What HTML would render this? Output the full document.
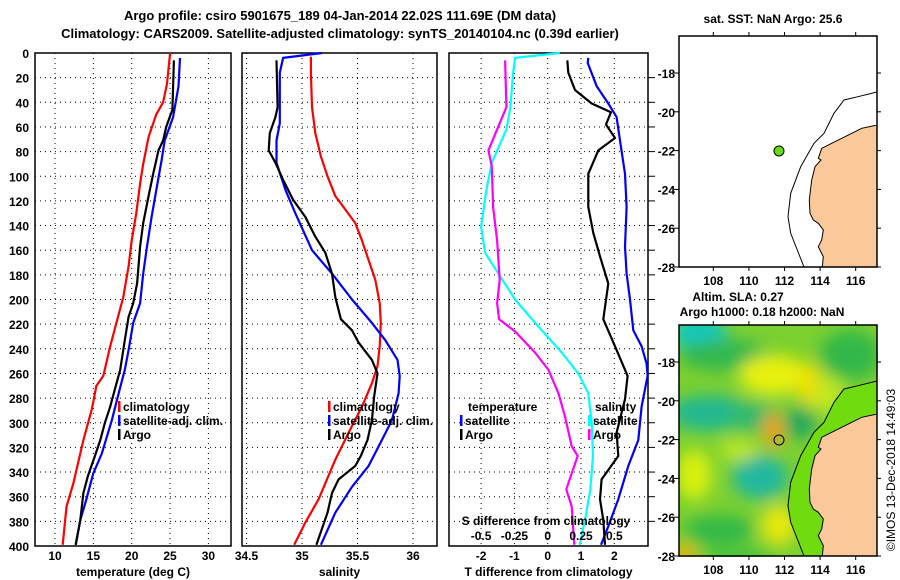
<!DOCTYPE html>
<html><head><meta charset="utf-8"><style>
html,body{margin:0;padding:0;background:#fff;width:900px;height:580px;overflow:hidden}
svg text{font-family:"Liberation Sans",sans-serif;font-weight:bold;font-size:12px;fill:#000}
</style></head><body>
<svg id="fig" width="900" height="580" viewBox="0 0 900 580" xmlns="http://www.w3.org/2000/svg">
<defs>
<filter id="blur" x="-20%" y="-20%" width="140%" height="140%"><feGaussianBlur stdDeviation="8"/></filter>
<clipPath id="clip2"><rect x="679" y="325" width="199" height="232"/></clipPath>
</defs>
<text x="340" y="20" text-anchor="middle" style="font-size:13px">Argo profile: csiro 5901675_189 04-Jan-2014 22.02S 111.69E (DM data)</text>
<text x="340" y="38" text-anchor="middle" style="font-size:13px">Climatology: CARS2009. Satellite-adjusted climatology: synTS_20140104.nc (0.39d earlier)</text>
<g id="panels"></g>
<g id="maps"></g>
<text x="773" y="23" text-anchor="middle">sat. SST: NaN Argo: 25.6</text>
<text x="738" y="301" text-anchor="middle">Altim. SLA: 0.27</text>
<text x="762" y="316" text-anchor="middle">Argo h1000: 0.18 h2000: NaN</text>
<text transform="translate(895,470) rotate(-90)" text-anchor="middle" style="font-weight:normal;font-size:12px">©IMOS 13-Dec-2018 14:49:03</text>
</svg>
<script>
// ---- Data ----
const depthTicks=[0,20,40,60,80,100,120,140,160,180,200,220,240,260,280,300,320,340,360,380,400];
const tempTicks=[10,15,20,25,30];
const salTicks=[34.5,35,35.5,36];
const tdiffTicks=[-2,-1,0,1,2];
const sdiffTickLabels=["-0.5","-0.25","0","0.25","0.5"];
const sdiffTicks=[-0.5,-0.25,0,0.25,0.5];
const latTicks=[-18,-20,-22,-24,-26,-28];
const lonTicks=[108,110,112,114,116];

const tClimD=[0,25,40,50,68,90,106,130,152,173,198,219,238,262,270,289,314,349,368,399];
const tClimV=[25.0,24.6,24.1,23.2,22.2,21.5,21.1,20.6,20.0,19.6,18.9,18.0,17.2,16.3,15.4,14.8,13.7,12.4,11.5,11.0];
const tSatD=[4,27,52,71,87,108,133,157,179,203,219,241,257,276,298,325,341,362,379,399];
const tSatV=[26.3,26.1,25.4,24.3,23.9,23.3,22.6,22.0,21.5,21.1,20.2,19.6,19.1,18.3,17.4,16.1,15.0,14.1,13.3,12.7];
const tArgoD=[6,46,60,71,79,98,116,138,157,187,203,214,233,257,273,287,300,314,327,343,357,379,399];
const tArgoV=[25.5,25.3,24.5,24.1,23.5,22.8,22.2,21.5,21.1,20.7,20.2,19.6,19.1,18.5,17.8,17.2,16.5,15.9,15.2,14.3,13.7,13.3,12.7];

const sClimD=[3,16,44,65,84,100,116,127,138,152,168,184,203,219,238,254,268,287,308,330,362,381,399];
const sClimV=[35.08,35.08,35.09,35.12,35.17,35.23,35.30,35.39,35.48,35.54,35.60,35.66,35.70,35.71,35.70,35.68,35.63,35.54,35.42,35.30,35.15,35.03,34.93];
const sSatD=[0,4,16,57,71,89,111,130,160,179,200,219,233,249,262,276,298,314,335,352,373,399];
const sSatV=[35.18,34.83,34.80,34.80,34.77,34.77,34.85,34.94,35.09,35.27,35.45,35.63,35.75,35.86,35.88,35.87,35.81,35.72,35.60,35.45,35.30,35.17];
const sArgoD=[6,44,52,65,79,89,103,119,133,149,162,179,198,216,225,235,249,260,279,298,314,327,335,346,357,373,399];
const sArgoV=[34.77,34.78,34.76,34.71,34.70,34.76,34.83,34.92,35.03,35.12,35.21,35.27,35.30,35.35,35.45,35.51,35.63,35.68,35.65,35.63,35.59,35.53,35.48,35.33,35.27,35.23,35.13];

const dtSatD=[4,8,27,41,52,71,98,125,157,179,200,225,238,252,262,287,314,335,362,384,399];
const dtSatV=[1.22,1.20,1.47,1.82,2.07,2.17,2.32,2.37,2.32,2.37,2.47,2.57,2.82,2.97,3.0,2.82,2.72,2.42,2.12,1.82,1.60];
const dtArgoD=[6,16,30,41,48,58,69,79,98,125,146,165,187,216,238,262,281,308,327,346,362,379,399];
const dtArgoV=[0.59,0.62,0.82,1.32,1.90,1.75,2.02,1.52,1.22,1.22,1.37,1.57,1.82,1.67,2.02,2.40,2.32,2.07,2.12,1.62,1.57,1.67,1.72];
const dsSatD=[0,4,16,44,62,89,111,141,162,179,200,222,243,260,276,300,327,354,379,399];
const dsSatV=[0.09,-0.245,-0.26,-0.28,-0.31,-0.42,-0.46,-0.50,-0.47,-0.37,-0.245,-0.07,0.105,0.23,0.305,0.33,0.34,0.32,0.28,0.24];
const dsArgoD=[6,44,62,79,92,125,152,184,203,216,226,243,257,276,295,319,327,341,354,368,399];
const dsArgoV=[-0.32,-0.31,-0.38,-0.445,-0.42,-0.41,-0.38,-0.36,-0.38,-0.365,-0.245,-0.095,0.005,0.08,0.13,0.18,0.225,0.18,0.14,0.18,0.20];

const floatLon=111.69, floatLat=-22.02;

// ---- helpers ----
const NS="http://www.w3.org/2000/svg";
function mk(tag,attrs,parent){const e=document.createElementNS(NS,tag);for(const k in attrs)e.setAttribute(k,attrs[k]);parent.appendChild(e);return e;}
const Y0=53,Y1=546;
const yD=d=>Y0+(d/400)*(Y1-Y0);
const panelsG=document.getElementById('panels');

function panel(name,x0,x1,xs,ticks,labels,title){
  const g=mk('g',{},panelsG);
  
  
  depthTicks.forEach(d=>{
    if(d>0&&d<400){const l=mk('line',{x1:x0,x2:x1,y1:yD(d),y2:yD(d),stroke:'#000','stroke-width':1,'stroke-dasharray':'1,4'},g);
    }
  });
  ticks.forEach((t,i)=>{
    const x=xs(t);
    const l=mk('line',{x1:x,x2:x,y1:Y0,y2:Y1,stroke:'#000','stroke-width':1,'stroke-dasharray':'1,4'},g);
    
    if(labels){const tx=mk('text',{x:x,y:560,'text-anchor':'middle'},g);tx.textContent=labels[i];
    }
  });
  const r=mk('rect',{x:x0,y:Y0,width:x1-x0,height:Y1-Y0,fill:'none',stroke:'#000','stroke-width':1.5},g);
  
  if(title){const t=mk('text',{x:(x0+x1)/2,y:576,'text-anchor':'middle'},g);t.textContent=title;
  }
  return g;
}
function line(g,xs,D,V,color,name){
  const pts=D.map((d,i)=>xs(V[i]).toFixed(1)+','+yD(d).toFixed(1)).join(' ');
  const p=mk('polyline',{points:pts,fill:'none',stroke:color,'stroke-width':2.2,'stroke-linejoin':'round'},g);
  
  
}
function legend(g,x,y,color,text,name){
  if(color){const b=mk('rect',{x:x,y:y-10,width:2.5,height:11,fill:color},g);
    }
  const t=mk('text',{x:x+5,y:y},g);t.textContent=text;
  
  
}

depthTicks.forEach(d=>{
  const t=mk('text',{x:29,y:yD(d)+5,'text-anchor':'end'},panelsG);t.textContent=d;
  
  
});

const xT=v=>55+(v-10)*7.67;
const p1=panel('temperature-panel',35,231,xT,tempTicks,tempTicks.map(String),'temperature (deg C)');
line(p1,xT,tClimD,tClimV,'#f00','temp-climatology-line');
line(p1,xT,tSatD,tSatV,'#00f','temp-satellite-line');
line(p1,xT,tArgoD,tArgoV,'#000','temp-argo-line');
legend(p1,118,411,'#f00','climatology','legend-climatology');
legend(p1,118,425,'#00f','satellite-adj. clim.','legend-satellite');
legend(p1,118,439,'#000','Argo','legend-argo');

const xS=v=>302+(v-35)*111;
const p2=panel('salinity-panel',242,437,xS,salTicks,salTicks.map(String),'salinity');
line(p2,xS,sClimD,sClimV,'#f00','sal-climatology-line');
line(p2,xS,sSatD,sSatV,'#00f','sal-satellite-line');
line(p2,xS,sArgoD,sArgoV,'#000','sal-argo-line');
legend(p2,328,411,'#f00','climatology','legend-climatology');
legend(p2,328,425,'#00f','satellite-adj. clim.','legend-satellite');
legend(p2,328,439,'#000','Argo','legend-argo');

const xDT=v=>547.7+v*33.3;
const xDS=v=>547.7+v*133.2;
const p3=panel('difference-panel',449,648,xDT,tdiffTicks,tdiffTicks.map(String),'T difference from climatology');
line(p3,xDT,dtSatD,dtSatV,'#00f','tdiff-satellite-line');
line(p3,xDT,dtArgoD,dtArgoV,'#000','tdiff-argo-line');
line(p3,xDS,dsSatD,dsSatV,'#0ff','sdiff-satellite-line');
line(p3,xDS,dsArgoD,dsArgoV,'#f0f','sdiff-argo-line');
depthTicks.forEach(d=>{if(d>0&&d<400){const l=mk('line',{x1:648,x2:655,y1:yD(d),y2:yD(d),stroke:'#000','stroke-width':1},p3);
  }});
legend(p3,463,411,null,'temperature','legend-temperature-header');
legend(p3,460,425,'#00f','satellite','legend-t-satellite');
legend(p3,460,439,'#000','Argo','legend-t-argo');
legend(p3,590,411,null,'salinity','legend-salinity-header');
legend(p3,588,425,'#0ff','satellite','legend-s-satellite');
legend(p3,588,439,'#f0f','Argo','legend-s-argo');
{const t=mk('text',{x:546,y:525,'text-anchor':'middle'},p3);t.textContent='S difference from climatology';
}
sdiffTicks.forEach((s,i)=>{const t=mk('text',{x:xDS(s),y:540,'text-anchor':'middle'},p3);t.textContent=sdiffTickLabels[i];
});

// ---- Maps ----
const mapsG=document.getElementById('maps');
const MW=198,MH=231;
const coastRel=[[198.3,89],[182.7,92.3],[166,100.7],[152.7,107.3],[142.7,112.3],[139.3,122.3],[142,124],[136,130.7],[132.7,144],[130.3,164],[131,177.3],[134.3,184],[139.3,187.3],[144.3,194],[142.7,204],[139.3,210.7],[144.3,220.7],[143.3,231]];
const contourRel=[[198,56],[179,60.7],[165,64],[155,77.3],[145,97.3],[135,107.3],[121.7,130.7],[111.7,157.3],[109,180.7],[111.7,197.3],[118.3,214],[125,231]];
function drawMap(name,ox,oy,heat){
  const g=mk('g',{},mapsG);
  
  
  const lonX=lon=>ox+34.3+(lon-108)*17.8;
  const latY=lat=>oy+37+(-18-lat)*19.4;
  if(heat){
    const hg=mk('g',{'clip-path':'url(#clip2)'},g);
    mk('rect',{x:ox,y:oy,width:MW,height:MH,fill:'#7cd030'},hg);
    const fb=mk('g',{filter:'url(#blur)'},hg);
    const blobs=[[20,8,28,16,'#10c8c0'],[45,30,45,16,'#30b850'],[30,88,40,18,'#20b890'],[75,92,25,14,'#30b870'],[121,98,16,16,'#20a860'],[81,152,28,22,'#20b8a0'],[40,205,35,15,'#30b848'],[171,30,30,25,'#30b848'],[95,50,35,20,'#e8f010'],[131,60,12,22,'#f0e000'],[94,105,10,18,'#f0a010'],[100,200,18,20,'#e8e810'],[4,230,14,10,'#f0b000'],[15,150,18,25,'#d8f010'],[60,125,20,10,'#c0e820'],[160,130,25,25,'#80d030'],[60,232,40,8,'#40c040'],[150,70,15,20,'#c0e820']];
    blobs.forEach(b=>mk('ellipse',{cx:ox+b[0],cy:oy+b[1],rx:b[2],ry:b[3],fill:b[4]},fb));
    const shelf=contourRel.map(p=>(ox+p[0])+','+(oy+p[1])).join(' ')+' '+coastRel.slice().reverse().map(p=>(ox+p[0])+','+(oy+p[1])).join(' ');
    const sp=mk('polygon',{points:shelf,fill:'#70dc10'},hg);
    
  }
  const land=coastRel.map(p=>(ox+p[0])+','+(oy+p[1])).join(' ')+' '+(ox+MW)+','+(oy+MH)+' '+(ox+MW)+','+(oy+89);
  const lp=mk('polygon',{points:land,fill:'#fbc999',stroke:'#000','stroke-width':1},g);
  
  const cp=mk('polyline',{points:contourRel.map(p=>(ox+p[0])+','+(oy+p[1])).join(' '),fill:'none',stroke:'#000','stroke-width':1},g);
  
  const fr=mk('rect',{x:ox,y:oy,width:MW,height:MH,fill:'none',stroke:'#000','stroke-width':1.5},g);
  
  latTicks.forEach(l=>{const y=latY(l);
    mk('line',{x1:ox,x2:ox-5,y1:y,y2:y,stroke:'#000'},g);mk('line',{x1:ox+MW,x2:ox+MW+4,y1:y,y2:y,stroke:'#000'},g);
    const t=mk('text',{x:ox-4,y:y+5,'text-anchor':'end'},g);t.textContent=l;
    });
  lonTicks.forEach(l=>{const x=lonX(l);
    mk('line',{x1:x,x2:x,y1:oy,y2:oy-4,stroke:'#000'},g);mk('line',{x1:x,x2:x,y1:oy+MH,y2:oy+MH+4,stroke:'#000'},g);
    const t=mk('text',{x:x,y:oy+MH+18,'text-anchor':'middle'},g);t.textContent=l;
    });
  const c=mk('circle',{cx:lonX(floatLon),cy:latY(floatLat),r:5,fill:heat?'none':'#66dd11',stroke:'#000','stroke-width':1},g);
  
  
}
drawMap('sst-map',679,36,false);
drawMap('sla-map',679,325,true);
</script>
</body></html>
